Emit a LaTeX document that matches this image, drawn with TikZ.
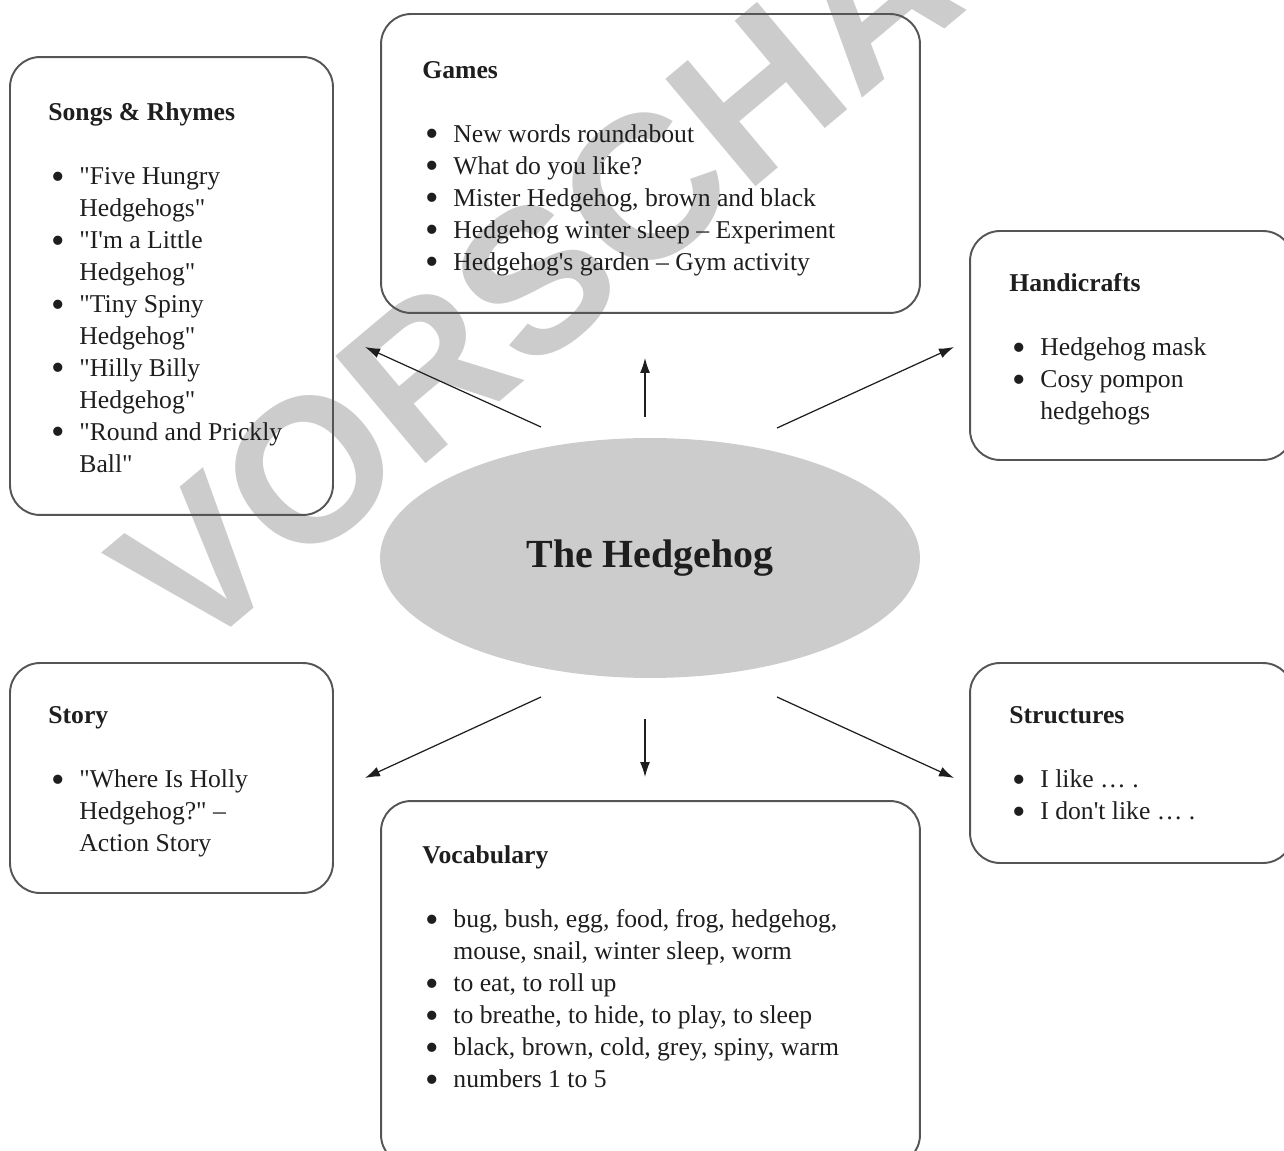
\documentclass[tikz,border=0pt]{standalone}
\usepackage{fontspec}
\setmainfont{Liberation Serif}[Ligatures=TeXOff]
\newfontfamily\stampfont{Liberation Sans}
\usetikzlibrary{positioning,shapes.geometric,arrows.meta}

\definecolor{boxline}{HTML}{555555}
\definecolor{ink}{HTML}{1E1E1E}
\definecolor{hubgray}{HTML}{CCCCCC}

\newcommand{\bul}{\makebox[0.62cm][l]{\hspace{0.06cm}\raisebox{-0.17em}{\scalebox{1.5}{\textbullet}}}}
\newcommand{\hang}{\hspace*{0.62cm}}

\tikzset{
  topic/.style={rectangle, draw=boxline, line width=1.1pt, rounded corners=0.6cm, inner sep=0pt},
  topictext/.style={align=left, inner sep=0pt, text=ink, font=\fontsize{14.6}{18.2}\selectfont},
  arr/.style={-{Latex[length=0.3cm,width=0.2cm]}, line width=0.7pt, draw=ink},
  stamp/.style={text=hubgray, inner sep=0pt, font=\stampfont\bfseries\fontsize{116}{116}\selectfont}
}

\begin{document}
\begin{tikzpicture}[x=0.02cm, y=-0.02cm]
  \useasboundingbox (0,0) rectangle (1284,1151);

  % watermark behind everything
  \node[stamp, rotate=40, anchor=base west] (wm) at (190,662) {VORSCHAU};

  % centre
  \node[ellipse, fill=hubgray, minimum width=10.8cm, minimum height=4.8cm, inner sep=0pt,
        text=ink, font=\bfseries\fontsize{22.7}{27}\selectfont] (hub) at (650,558) {The Hedgehog};

  % topic boxes
  \node[topic, minimum width=6.46cm, minimum height=9.16cm] (songs) at (171.5,286) {};
  \node[topic, minimum width=10.78cm, minimum height=5.98cm] (games) at (650.5,163.5) {};
  \node[topic, minimum width=6.46cm, minimum height=4.58cm] (handi) at (1131.5,345.5) {};
  \node[topic, minimum width=6.46cm, minimum height=4.6cm] (story) at (171.5,778) {};
  \node[topic, minimum width=6.46cm, minimum height=4cm] (struct) at (1131.5,763) {};
  \node[topic, minimum width=10.78cm, minimum height=7.28cm] (vocab) at (650.5,983) {};

  % box texts
  \node[topictext, below right=0.84cm and 0.78cm of songs.north west] (songs-txt) {\strut\textbf{Songs \& Rhymes}\\[0.64cm]
    \bul"Five Hungry\\ \hang Hedgehogs"\\
    \bul"I'm a Little\\ \hang Hedgehog"\\
    \bul"Tiny Spiny\\ \hang Hedgehog"\\
    \bul"Hilly Billy\\ \hang Hedgehog"\\
    \bul"Round and Prickly\\ \hang Ball"};
  \node[topictext, below right=0.85cm and 0.84cm of games.north west] (games-txt) {\strut\textbf{Games}\\[0.64cm]
    \bul New words roundabout\\
    \bul What do you like?\\
    \bul Mister Hedgehog, brown and black\\
    \bul Hedgehog winter sleep – Experiment\\
    \bul Hedgehog's garden – Gym activity};
  \node[topictext, below right=0.78cm and 0.8cm of handi.north west] (handi-txt) {\strut\textbf{Handicrafts}\\[0.64cm]
    \bul Hedgehog mask\\
    \bul Cosy pompon\\ \hang hedgehogs};
  \node[topictext, below right=0.78cm and 0.78cm of story.north west] (story-txt) {\strut\textbf{Story}\\[0.64cm]
    \bul"Where Is Holly\\ \hang Hedgehog?" –\\ \hang Action Story};
  \node[topictext, below right=0.78cm and 0.8cm of struct.north west] (struct-txt) {\strut\textbf{Structures}\\[0.64cm]
    \bul I like … .\\
    \bul I don't like … .};
  \node[topictext, below right=0.82cm and 0.84cm of vocab.north west] (vocab-txt) {\strut\textbf{Vocabulary}\\[0.64cm]
    \bul bug, bush, egg, food, frog, hedgehog,\\ \hang mouse, snail, winter sleep, worm\\
    \bul to eat, to roll up\\
    \bul to breathe, to hide, to play, to sleep\\
    \bul black, brown, cold, grey, spiny, warm\\
    \bul numbers 1 to 5};

  % arrow ends
  \coordinate (tl1) at (541,427); \coordinate (tl2) at (365,347);
  \coordinate (tc1) at (645,417); \coordinate (tc2) at (645,358);
  \coordinate (tr1) at (777,428); \coordinate (tr2) at (954,347);
  \coordinate (bl1) at (541,697); \coordinate (bl2) at (365,778);
  \coordinate (bc1) at (645,719); \coordinate (bc2) at (645,777);
  \coordinate (br1) at (777,697); \coordinate (br2) at (954,778);

  \draw[arr] (tl1) -- (tl2);
  \draw[arr] (tc1) -- (tc2);
  \draw[arr] (tr1) -- (tr2);
  \draw[arr] (bl1) -- (bl2);
  \draw[arr] (bc1) -- (bc2);
  \draw[arr] (br1) -- (br2);
\end{tikzpicture}
\end{document}
